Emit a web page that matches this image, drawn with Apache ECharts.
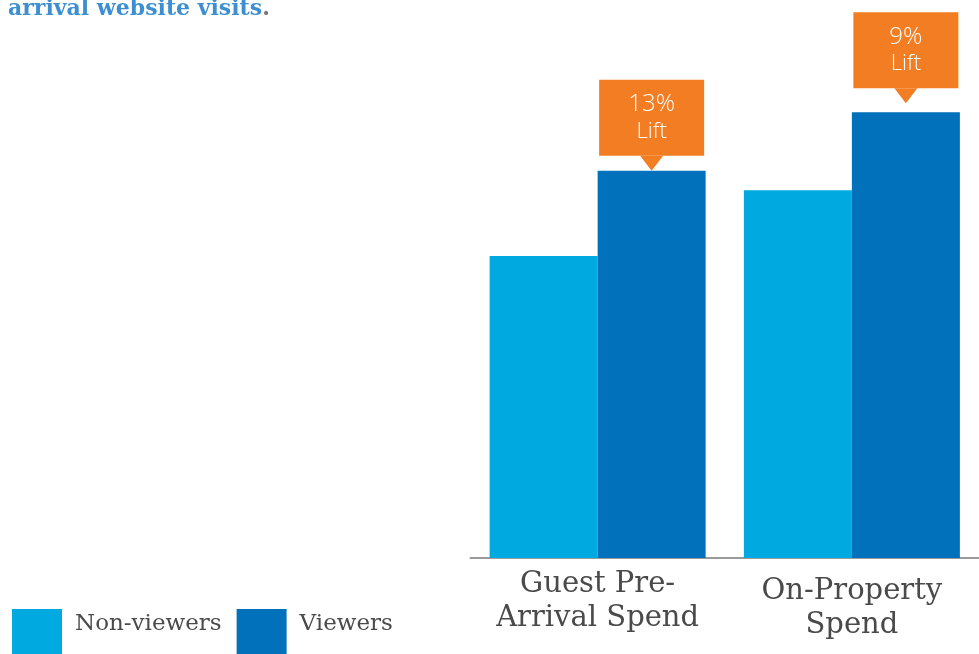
<!DOCTYPE html>
<html>
<head>
<meta charset="utf-8">
<script src="https://cdn.jsdelivr.net/npm/echarts@6/dist/echarts.min.js"></script>
<style>
  html, body { margin: 0; padding: 0; background: #ffffff; }
  #chart { width: 979px; height: 654px; }
</style>
</head>
<body>
<div id="chart"></div>
<script>
// Spend index by guest group (share of axis maximum = 100)
const categories = ['Guest Pre-\nArrival Spend', 'On-Property\nSpend'];
const seriesNames = ['Non-viewers', 'Viewers'];
const nonViewers = [54.1, 65.9];
const viewers = [69.4, 79.9];
const liftLabels = ['13%', '9%'];

// Gap between each callout pointer and the top of its bar
const calloutGap = [0, 9];
const pointerH = 15;
// Extra drop applied to each category label
const labelDrop = [0, 7];

const lightBlue = '#00A9E0';
const darkBlue = '#0071BA';
const orange = '#F27D22';
const serif = '"DejaVu Serif", "Liberation Serif", serif';
const sans = '"Open Sans", "Noto Sans", sans-serif';

const chart = echarts.init(document.getElementById('chart'));

const viewerData = viewers.map((v, i) => ({
  value: v,
  label: {
    show: true,
    position: 'top',
    distance: pointerH + calloutGap[i],
    formatter: '{n|' + liftLabels[i] + '}\n{l|Lift}',
    backgroundColor: orange,
    width: 105,
    padding: [11, 0, 11, 0],
    align: 'center',
    rich: {
      n: { color: '#ffffff', fontFamily: sans, fontWeight: 300, fontSize: 24, lineHeight: 27, align: 'center' },
      l: { color: '#ffffff', fontFamily: sans, fontWeight: 300, fontSize: 22, lineHeight: 27, align: 'center' }
    }
  }
}));

const pointerData = viewers.map((v, i) => ({
  coord: [i, v],
  symbolOffset: [0, -(pointerH / 2 + calloutGap[i])]
}));

const categoryData = categories.map((c, i) => ({
  value: c,
  textStyle: { padding: [labelDrop[i], 0, 0, 0] }
}));

chart.setOption({
  animation: false,
  backgroundColor: '#ffffff',
  title: {
    text: '{a|arrival website visits}{b|.}',
    left: 3,
    top: -7,
    textStyle: {
      rich: {
        a: { color: '#3E8FD1', fontFamily: serif, fontWeight: 'bold', fontSize: 22 },
        b: { color: '#777777', fontFamily: serif, fontSize: 22 }
      }
    }
  },
  legend: {
    left: 12,
    top: 609,
    padding: 0,
    icon: 'rect',
    itemWidth: 50,
    itemHeight: 45,
    itemGap: 15,
    data: seriesNames,
    formatter: name => '{t|' + name + '}',
    textStyle: {
      rich: {
        t: {
          color: '#4a4a4a',
          fontFamily: serif,
          fontSize: 23,
          lineHeight: 28,
          padding: [0, 0, 15, 8]
        }
      }
    }
  },
  grid: {
    left: 470.5,
    width: 510,
    top: 0,
    bottom: 96,
    containLabel: false
  },
  xAxis: {
    type: 'category',
    data: categoryData,
    axisLine: { show: true, lineStyle: { color: '#9a9a9a', width: 2 } },
    axisTick: { show: false },
    axisLabel: {
      color: '#4a4a4a',
      fontFamily: serif,
      fontSize: 29,
      lineHeight: 34,
      margin: 9,
      interval: 0
    }
  },
  yAxis: {
    type: 'value',
    min: 0,
    max: 100,
    show: false,
    splitLine: { show: false }
  },
  series: [
    {
      name: seriesNames[0],
      type: 'bar',
      data: nonViewers,
      barWidth: 108,
      barGap: '0%',
      itemStyle: { color: lightBlue }
    },
    {
      name: seriesNames[1],
      type: 'bar',
      data: viewerData,
      barWidth: 108,
      barGap: '0%',
      itemStyle: { color: darkBlue },
      markPoint: {
        symbol: 'path://M0,0 L23,0 L11.5,15 Z',
        symbolSize: [23, 15],
        itemStyle: { color: orange },
        label: { show: false },
        silent: true,
        data: pointerData
      }
    }
  ]
});
</script>
</body>
</html>
